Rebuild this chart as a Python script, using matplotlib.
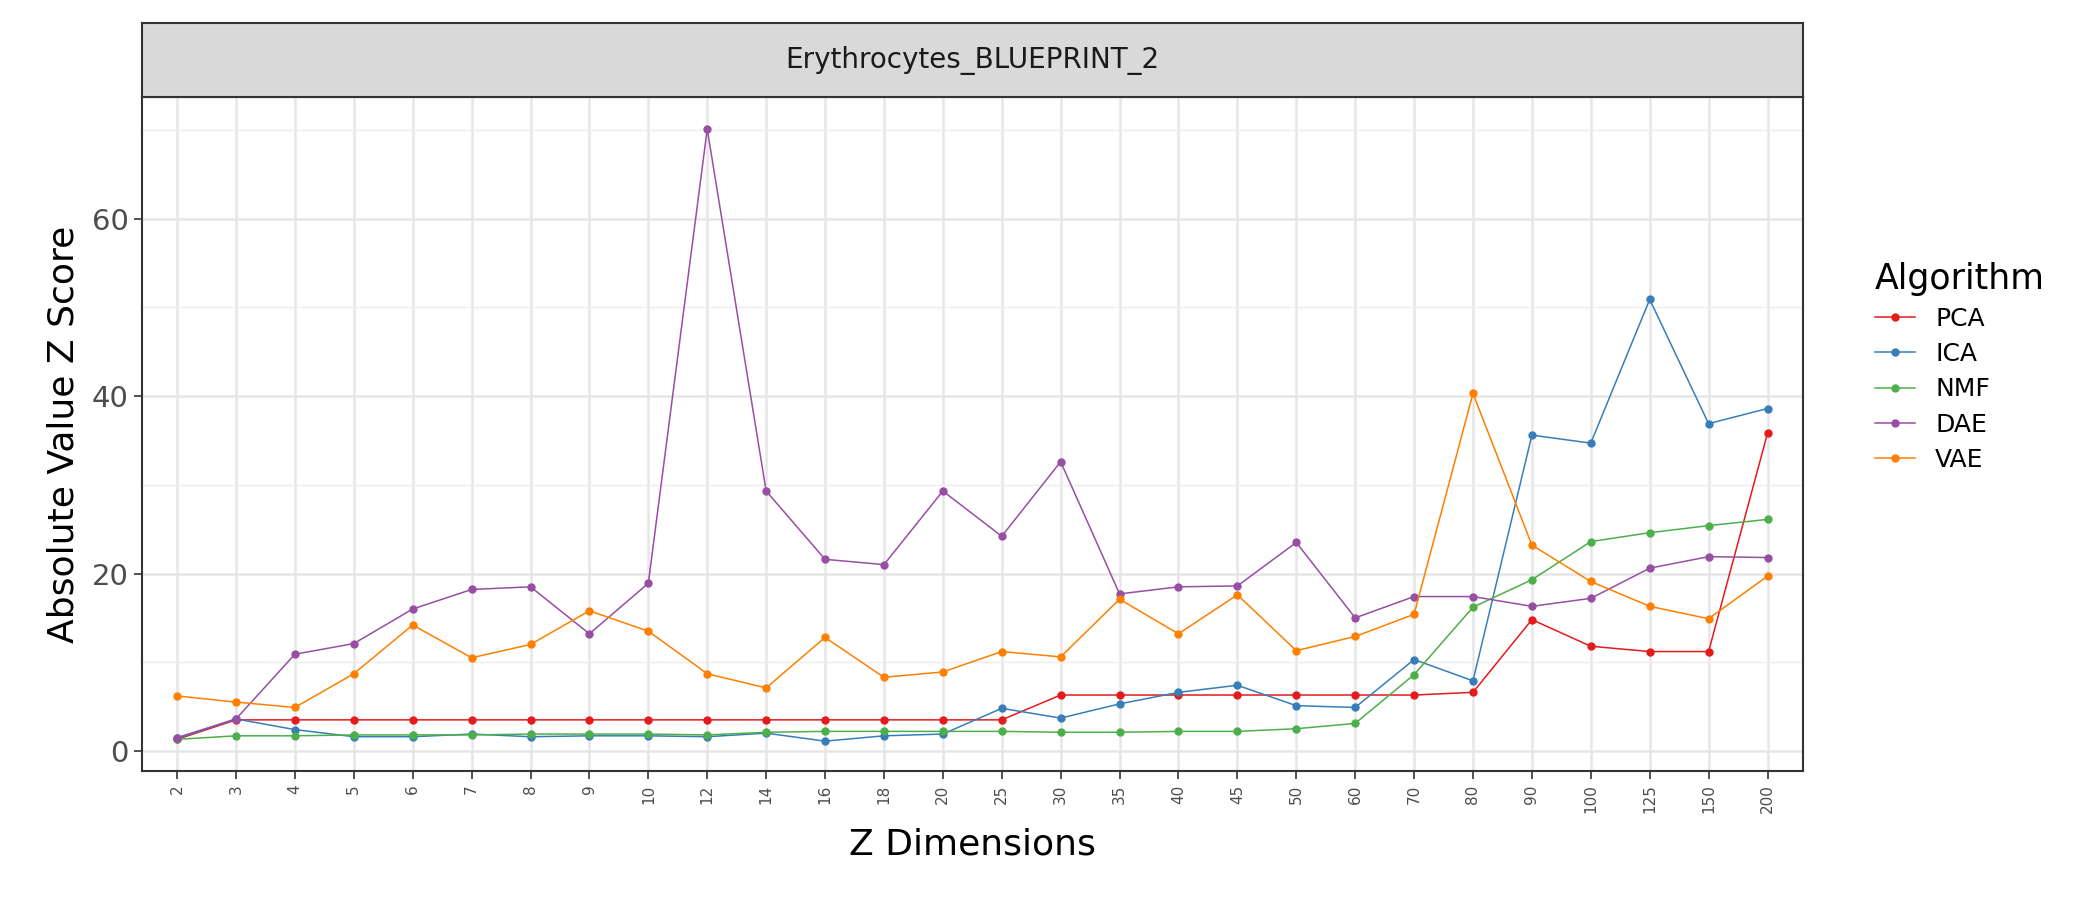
import matplotlib
matplotlib.use("Agg")
import matplotlib.pyplot as plt

dims = ["2", "3", "4", "5", "6", "7", "8", "9", "10", "12", "14", "16", "18", "20",
        "25", "30", "35", "40", "45", "50", "60", "70", "80", "90", "100", "125", "150", "200"]

pca = [1.3, 3.5, 3.5, 3.5, 3.5, 3.5, 3.5, 3.5, 3.5, 3.5, 3.5, 3.5, 3.5, 3.5,
       3.5, 6.3, 6.3, 6.3, 6.3, 6.3, 6.3, 6.3, 6.6, 14.8, 11.8, 11.2, 11.2, 35.8]
ica = [1.4, 3.6, 2.4, 1.6, 1.6, 1.9, 1.6, 1.7, 1.7, 1.6, 2.0, 1.1, 1.7, 1.9,
       4.8, 3.7, 5.3, 6.6, 7.4, 5.1, 4.9, 10.3, 7.9, 35.6, 34.7, 50.9, 36.9, 38.6]
nmf = [1.3, 1.7, 1.7, 1.8, 1.8, 1.8, 1.9, 1.9, 1.9, 1.8, 2.1, 2.2, 2.2, 2.2,
       2.2, 2.1, 2.1, 2.2, 2.2, 2.5, 3.1, 8.6, 16.2, 19.3, 23.6, 24.6, 25.4, 26.1]
dae = [1.5, 3.6, 10.9, 12.1, 16.0, 18.2, 18.5, 13.2, 18.9, 70.1, 29.3, 21.6, 21.0, 29.3,
       24.2, 32.6, 17.7, 18.5, 18.6, 23.5, 15.0, 17.4, 17.4, 16.3, 17.2, 20.6, 21.9, 21.8]
vae = [6.2, 5.5, 4.9, 8.7, 14.2, 10.5, 12.0, 15.8, 13.5, 8.7, 7.1, 12.8, 8.3, 8.9,
       11.2, 10.6, 17.1, 13.2, 17.6, 11.3, 12.9, 15.4, 40.3, 23.2, 19.1, 16.3, 14.9, 19.7]

series = [("PCA", pca, "#E41A1C"), ("ICA", ica, "#377EB8"), ("NMF", nmf, "#4DAF4A"),
          ("DAE", dae, "#984EA3"), ("VAE", vae, "#FF7F00")]

fig = plt.figure(figsize=(21, 9), dpi=100)
ax = fig.add_axes([0.0675, 0.143, 0.791, 0.749])
strip = fig.add_axes([0.0675, 0.892, 0.791, 0.082])

x = list(range(len(dims)))
for name, vals, col in series:
    ax.plot(x, vals, color=col, lw=1.1, marker="o", ms=5, label=name)

ax.set_xlim(-0.6, len(dims) - 0.4)
ax.set_ylim(-2.3, 73.7)
ax.set_xticks(x)
ax.set_xticklabels(dims, rotation=90, fontsize=11, color="#4d4d4d")
ax.set_yticks([0, 20, 40, 60])
ax.set_yticks([10, 30, 50, 70], minor=True)
ax.tick_params(axis="y", labelsize=21, colors="#4d4d4d", which="both")
ax.tick_params(axis="y", which="minor", length=0)
ax.tick_params(axis="both", color="#333333", length=6, width=1.2)
ax.grid(True, which="major", color="#e6e6e6", lw=1.8)
ax.grid(True, which="minor", axis="y", color="#eeeeee", lw=1.0)
ax.set_axisbelow(True)
for s in ax.spines.values():
    s.set_color("#333333")
    s.set_linewidth(1.5)
ax.set_xlabel("Z Dimensions", fontsize=26, labelpad=10)
ax.set_ylabel("Absolute Value Z Score", fontsize=26, labelpad=8)

strip.set_facecolor("#d9d9d9")
strip.set_xticks([]); strip.set_yticks([])
for s in strip.spines.values():
    s.set_color("#333333")
    s.set_linewidth(1.5)
strip.text(0.5, 0.5, "Erythrocytes_BLUEPRINT_2", ha="center", va="center",
           fontsize=20, color="#1a1a1a", transform=strip.transAxes)

leg = ax.legend(loc="center left", bbox_to_anchor=(1.03, 0.6), frameon=False,
                fontsize=18, title="Algorithm", title_fontsize=25,
                handlelength=1.6, labelspacing=0.45, alignment="left")

fig.savefig("out.png", dpi=100)
